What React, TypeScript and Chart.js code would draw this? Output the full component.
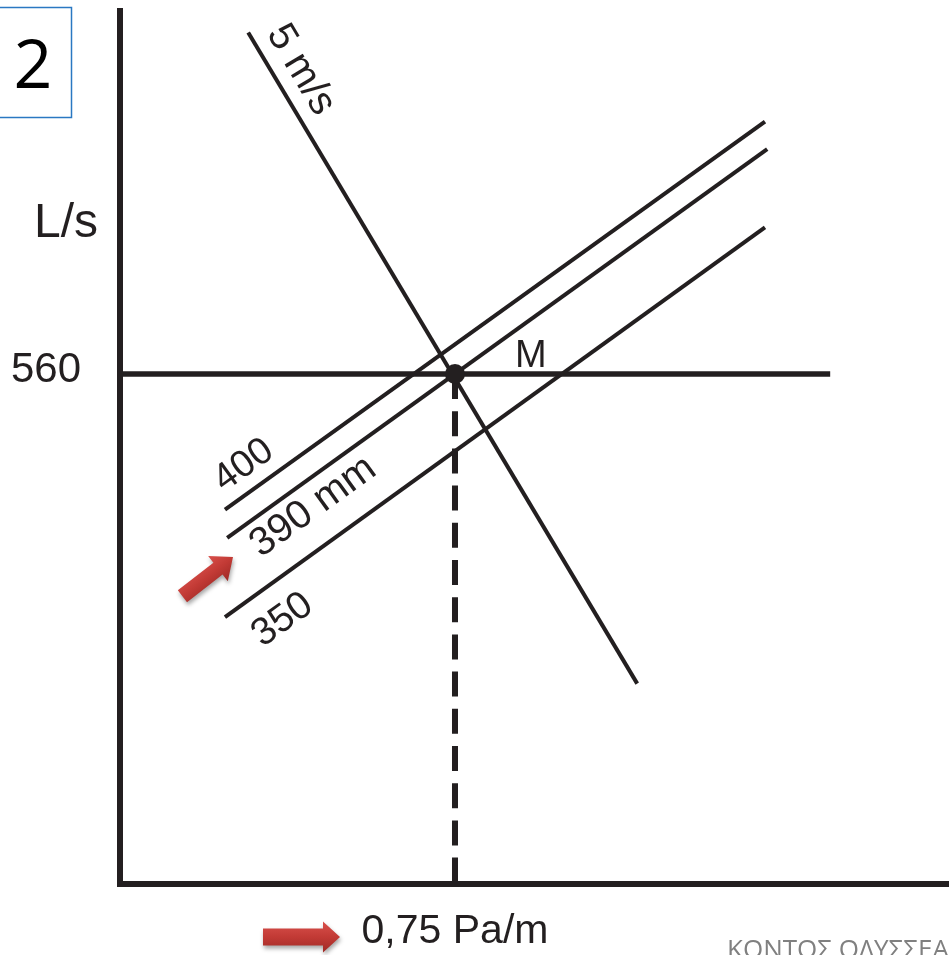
import React, { useEffect, useRef } from "react";
import { Chart, registerables } from "chart.js";

Chart.register(...registerables);

// ---- data (x: friction loss Pa/m, y: flow L/s) ----
const xMax = 1.856;
const yMax = 961.9;
const designFriction = 0.75;
const designFlow = 560;
const horizontalEndX = 1.59;

const lineLabels = ["5 m/s", "400", "390 mm", "350"];
const lineStartX = [0.287, 0.235, 0.24, 0.235];
const lineStartY = [935, 411, 380, 293];
const lineEndX = [1.158, 1.444, 1.449, 1.444];
const lineEndY = [220, 837, 807, 721];

const yTickLabels = ["560"];
const xTickLabels = ["0,75 Pa/m"];
const yAxisTitle = "L/s";
const pointLabel = "M";
const slideNumber = "2";
const footerText = "ΚΟΝΤΟΣ ΟΔΥΣΣΕΑΣ";

const INK = "#231f20";
const FONT = '"Liberation Sans", Arial, Helvetica, sans-serif';

// label placement along each line: [along px from start, offset px on text-up side, font px]
const labelPlacement = [
  [59, 26, 40],
  [41, 25, 38],
  [88, -25, 40],
  [45, -36, 39],
];

function drawArrow(
  ctx: CanvasRenderingContext2D,
  tx: number,
  ty: number,
  angle: number,
  len: number,
  headLen: number,
  headW: number,
  shaftW: number
) {
  ctx.save();
  ctx.translate(tx, ty);
  ctx.rotate(angle);
  ctx.beginPath();
  ctx.moveTo(0, 0);
  ctx.lineTo(-headLen, -headW / 2);
  ctx.lineTo(-headLen, -shaftW / 2);
  ctx.lineTo(-len, -shaftW / 2);
  ctx.lineTo(-len, shaftW / 2);
  ctx.lineTo(-headLen, shaftW / 2);
  ctx.lineTo(-headLen, headW / 2);
  ctx.closePath();
  const g = ctx.createLinearGradient(0, -headW / 2, 0, headW / 2);
  g.addColorStop(0, "#d9504b");
  g.addColorStop(0.5, "#c23a35");
  g.addColorStop(1, "#9f2a26");
  ctx.shadowColor = "rgba(0,0,0,0.35)";
  ctx.shadowBlur = 4;
  ctx.shadowOffsetX = 1;
  ctx.shadowOffsetY = 3;
  ctx.fillStyle = g;
  ctx.fill();
  ctx.restore();
}

const annotationPlugin = {
  id: "annotations",
  afterDatasetsDraw(chart: any) {
    const ctx: CanvasRenderingContext2D = chart.ctx;
    const xs = chart.scales.x;
    const ys = chart.scales.y;
    ctx.save();
    ctx.fillStyle = INK;

    // line labels
    for (let i = 0; i < lineLabels.length; i++) {
      const x0 = xs.getPixelForValue(lineStartX[i]);
      const y0 = ys.getPixelForValue(lineStartY[i]);
      const x1 = xs.getPixelForValue(lineEndX[i]);
      const y1 = ys.getPixelForValue(lineEndY[i]);
      const th = Math.atan2(y1 - y0, x1 - x0);
      const [along, perp, size] = labelPlacement[i];
      const cx = x0 + Math.cos(th) * along + Math.sin(th) * perp;
      const cy = y0 + Math.sin(th) * along - Math.cos(th) * perp;
      ctx.save();
      ctx.translate(cx, cy);
      ctx.rotate(th);
      ctx.font = `${size}px ${FONT}`;
      ctx.textAlign = "center";
      ctx.textBaseline = "middle";
      ctx.fillText(lineLabels[i], 0, 0);
      ctx.restore();
    }

    const mx = xs.getPixelForValue(designFriction);
    const my = ys.getPixelForValue(designFlow);

    // M label
    ctx.font = `38px ${FONT}`;
    ctx.textAlign = "left";
    ctx.textBaseline = "alphabetic";
    ctx.fillText(pointLabel, mx + 60, my - 7);

    // y tick label
    ctx.font = `42px ${FONT}`;
    ctx.textAlign = "right";
    ctx.fillText(yTickLabels[0], 81, my + 8);

    // y axis title
    ctx.font = `48px ${FONT}`;
    ctx.textAlign = "left";
    ctx.fillText(yAxisTitle, 34, 237);

    // x tick label
    ctx.font = `41px ${FONT}`;
    ctx.textAlign = "center";
    ctx.fillText(xTickLabels[0], mx, 943);

    // slide number box
    ctx.strokeStyle = "#2a78c2";
    ctx.lineWidth = 1.5;
    ctx.strokeRect(-2, 7.5, 73.5, 110);
    ctx.fillStyle = "#000000";
    ctx.font = `68px "Open Sans", "Noto Sans", sans-serif`;
    ctx.textAlign = "center";
    ctx.fillText(slideNumber, 33, 88);

    // footer
    ctx.fillStyle = "#808080";
    ctx.font = `26px "Open Sans", "Noto Sans", sans-serif`;
    ctx.textAlign = "left";
    ctx.fillText(footerText, 727, 958);

    // red arrows
    drawArrow(ctx, 233, 557, (-37.8 * Math.PI) / 180, 64, 19, 32, 15);
    drawArrow(ctx, 340, 937, 0, 77, 17, 31, 17);

    ctx.restore();
  },
};

function seg(x0: number, y0: number, x1: number, y1: number) {
  return [
    { x: x0, y: y0 },
    { x: x1, y: y1 },
  ];
}

export default function App() {
  const ref = useRef<HTMLCanvasElement | null>(null);

  useEffect(() => {
    if (!ref.current) return;
    const base = {
      showLine: true,
      pointRadius: 0,
      borderColor: INK,
      backgroundColor: INK,
      clip: false as any,
      borderCapStyle: "butt" as const,
      tension: 0,
    };
    const datasets: any[] = [
      {
        ...base,
        showLine: false,
        data: [{ x: designFriction, y: designFlow }],
        pointRadius: 10,
        pointBorderWidth: 0,
      },
    ];
    for (let i = 0; i < lineLabels.length; i++) {
      datasets.push({
        ...base,
        borderWidth: 4,
        data: seg(lineStartX[i], lineStartY[i], lineEndX[i], lineEndY[i]),
      });
    }
    datasets.push({
      ...base,
      borderWidth: 5.5,
      data: seg(0, designFlow, horizontalEndX, designFlow),
    });
    datasets.push({
      ...base,
      borderWidth: 6,
      borderDash: [25, 12.2],
      data: seg(designFriction, designFlow, designFriction, 0),
    });
    datasets.push({
      ...base,
      borderWidth: 6,
      borderJoinStyle: "miter",
      data: [
        { x: 0, y: yMax },
        { x: 0, y: 0 },
        { x: xMax, y: 0 },
      ],
    });

    const chart = new Chart(ref.current, {
      type: "scatter",
      data: { datasets },
      options: {
        responsive: false,
        animation: false,
        devicePixelRatio: 1,
        events: [],
        layout: {
          autoPadding: false,
          padding: { left: 120, top: 8, right: 0, bottom: 71 },
        },
        scales: {
          x: { type: "linear", display: false, min: 0, max: xMax },
          y: { type: "linear", display: false, min: 0, max: yMax },
        },
        plugins: {
          legend: { display: false },
          tooltip: { enabled: false },
        },
      },
      plugins: [annotationPlugin],
    });
    return () => chart.destroy();
  }, []);

  return (
    <div
      style={{
        position: "fixed",
        left: 0,
        top: 0,
        width: 949,
        height: 955,
        background: "#ffffff",
        overflow: "hidden",
      }}
    >
      <canvas ref={ref} width={949} height={955} style={{ display: "block" }} />
    </div>
  );
}
